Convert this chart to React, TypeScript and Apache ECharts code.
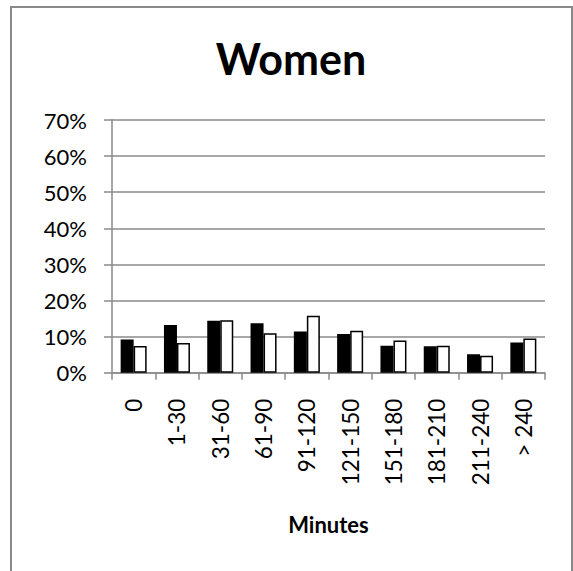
import React, { useEffect, useRef } from "react";
import * as echarts from "echarts";

const categories = ["0", "1-30", "31-60", "61-90", "91-120", "121-150", "151-180", "181-210", "211-240", "> 240"];
const seriesA = [9.2, 13.2, 14.4, 13.7, 11.4, 10.7, 7.5, 7.3, 5.1, 8.4];
const seriesB = [7.4, 8.2, 14.5, 10.9, 15.8, 11.6, 8.9, 7.5, 4.7, 9.5];
const yTicks = [0, 10, 20, 30, 40, 50, 60, 70];

const FONT = "Lato";
const GRAY = "#8a8a8a";

export default function App() {
  const ref = useRef<HTMLDivElement>(null);
  useEffect(() => {
    if (!ref.current) return;
    const chart = echarts.init(ref.current, null, { renderer: "svg" });
    chart.setOption({
      animation: false,
      backgroundColor: "#ffffff",
      textStyle: { fontFamily: FONT },
      graphic: [
        {
          type: "rect",
          shape: { x: 11, y: 7, width: 561, height: 570 },
          style: { fill: "none", stroke: GRAY, lineWidth: 2 },
          silent: true,
          z: -1,
        },
        {
          type: "text",
          x: 291,
          y: 58.5,
          style: {
            text: "Women",
            font: `bold 43px ${FONT}`,
            fill: "#000",
            textAlign: "center",
            textVerticalAlign: "middle",
          },
        },
      ],
      grid: { left: 112, right: 28, top: 120, bottom: 198.3, containLabel: false },
      xAxis: {
        type: "category",
        data: categories,
        boundaryGap: true,
        name: "Minutes",
        nameLocation: "middle",
        nameGap: 152,
        nameTextStyle: { fontFamily: FONT, fontWeight: "bold", fontSize: 22, color: "#000", verticalAlign: "middle" },
        axisLine: { show: true, lineStyle: { color: GRAY, width: 1.5 } },
        axisTick: { show: true, length: 7, lineStyle: { color: GRAY, width: 1.5 }, alignWithLabel: false },
        axisLabel: { rotate: 90, margin: 26, fontFamily: FONT, fontSize: 22.5, color: "#000", interval: 0 },
        splitLine: { show: false },
      },
      yAxis: {
        type: "value",
        min: yTicks[0],
        max: yTicks[yTicks.length - 1],
        interval: 10,
        axisLine: { show: true, lineStyle: { color: GRAY, width: 1.5 } },
        axisTick: { show: true, length: 8, lineStyle: { color: GRAY, width: 1.5 } },
        axisLabel: { margin: 25, fontFamily: FONT, fontSize: 22, color: "#000", formatter: (v: number) => `${v}%` },
        splitLine: { show: true, lineStyle: { color: GRAY, width: 1.5 } },
      },
      series: [
        {
          type: "bar",
          data: seriesA,
          barWidth: 13,
          barGap: "0%",
          itemStyle: { color: "#000000", borderColor: "#000000", borderWidth: 1.5 },
        },
        {
          type: "bar",
          data: seriesB,
          barWidth: 13,
          barGap: "0%",
          itemStyle: { color: "#ffffff", borderColor: "#000000", borderWidth: 1.5 },
        },
      ],
    });
    return () => chart.dispose();
  }, []);
  return <div ref={ref} style={{ position: "fixed", left: 0, top: 0, width: 573, height: 571 }} />;
}
